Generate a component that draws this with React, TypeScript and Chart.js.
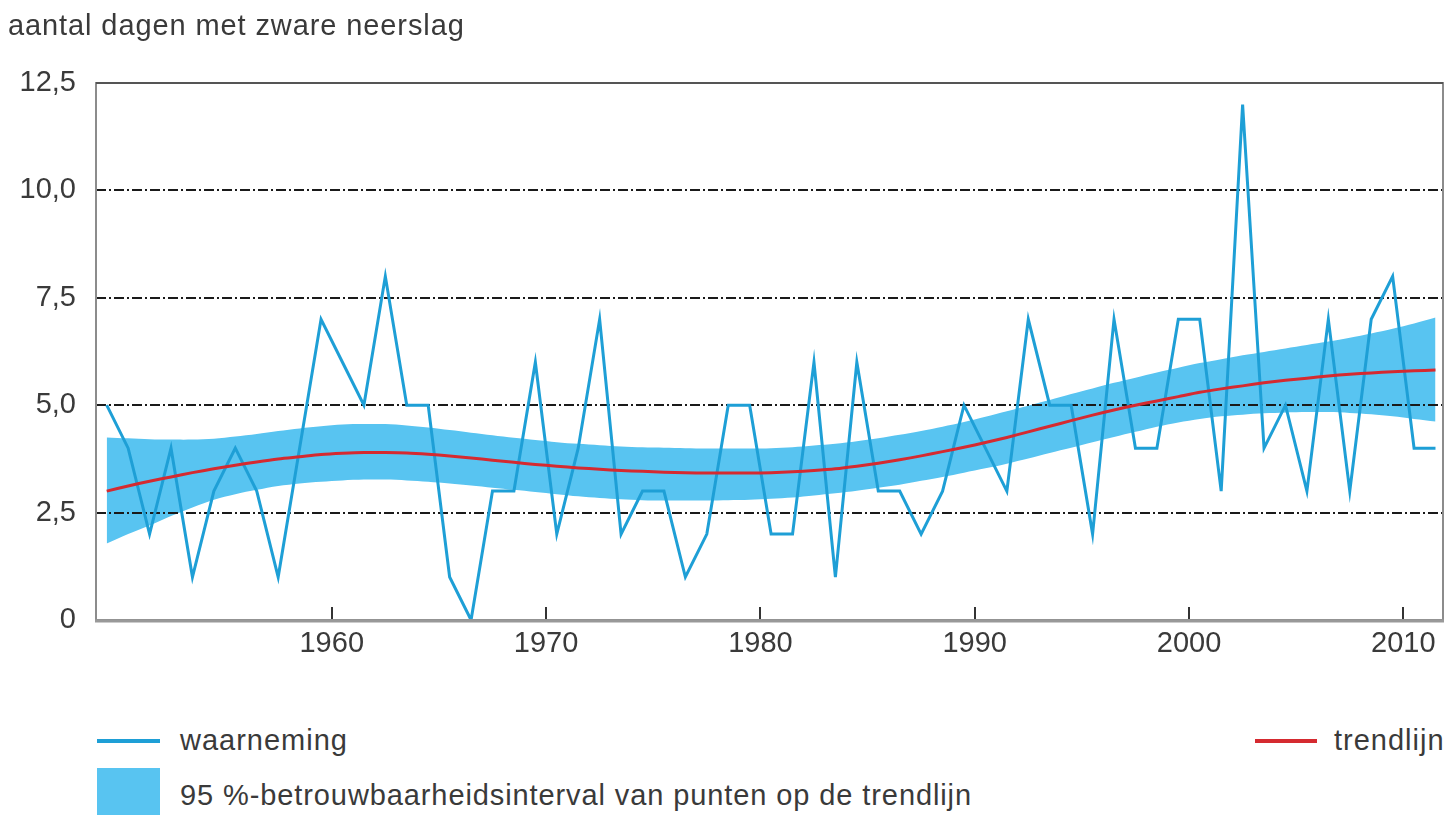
import React, { useEffect, useRef } from "react";
import { Chart, registerables } from "chart.js";

Chart.register(...registerables);

// ---- Data ----
const years = [
  1949, 1950, 1951, 1952, 1953, 1954, 1955, 1956, 1957, 1958,
  1959, 1960, 1961, 1962, 1963, 1964, 1965, 1966, 1967, 1968,
  1969, 1970, 1971, 1972, 1973, 1974, 1975, 1976, 1977, 1978,
  1979, 1980, 1981, 1982, 1983, 1984, 1985, 1986, 1987, 1988,
  1989, 1990, 1991, 1992, 1993, 1994, 1995, 1996, 1997, 1998,
  1999, 2000, 2001, 2002, 2003, 2004, 2005, 2006, 2007, 2008,
  2009, 2010, 2011,
];

const waarneming = [
  5, 4, 2, 4, 1, 3, 4, 3, 1, 4,
  7, 6, 5, 8, 5, 5, 1, 0, 3, 3,
  6, 2, 4, 7, 2, 3, 3, 1, 2, 5,
  5, 2, 2, 6, 1, 6, 3, 3, 2, 3,
  5, 4, 3, 7, 5, 5, 2, 7, 4, 4,
  7, 7, 3, 12, 4, 5, 3, 7, 3, 7,
  8, 4, 4,
];

const trendlijn = [
  3.0, 3.12, 3.23, 3.33, 3.43, 3.52, 3.6, 3.68, 3.75, 3.8,
  3.85, 3.88, 3.9, 3.9, 3.89, 3.86, 3.82, 3.77, 3.72, 3.67,
  3.62, 3.58, 3.54, 3.51, 3.48, 3.46, 3.44, 3.43, 3.42, 3.42,
  3.42, 3.43, 3.45, 3.48, 3.52, 3.58, 3.65, 3.73, 3.82, 3.92,
  4.02, 4.13, 4.25, 4.38, 4.51, 4.64, 4.77, 4.89, 5.0, 5.1,
  5.2, 5.3, 5.38, 5.45, 5.52, 5.58, 5.63, 5.68, 5.72, 5.75,
  5.78, 5.8, 5.82,
];

const intervalBoven = [
  4.25, 4.23, 4.21, 4.2, 4.2, 4.22, 4.27, 4.33, 4.4, 4.46,
  4.51, 4.55, 4.56, 4.56, 4.53, 4.48, 4.42, 4.36, 4.3, 4.24,
  4.19, 4.14, 4.1, 4.07, 4.04, 4.02, 4.01, 4.0, 3.99, 3.99,
  3.99, 4.0, 4.02, 4.06, 4.1, 4.16, 4.23, 4.31, 4.4, 4.5,
  4.61, 4.73, 4.86, 4.99, 5.12, 5.26, 5.39, 5.52, 5.64, 5.76,
  5.87, 5.98, 6.07, 6.16, 6.24, 6.32, 6.4, 6.48, 6.57, 6.67,
  6.78, 6.9, 7.04,
];

const intervalOnder = [
  1.78, 2.0, 2.2, 2.42, 2.62, 2.8, 2.93, 3.03, 3.12, 3.18,
  3.22, 3.25, 3.27, 3.27, 3.25, 3.22, 3.18, 3.13, 3.08, 3.03,
  2.98, 2.93, 2.88, 2.84, 2.81, 2.79, 2.78, 2.78, 2.78, 2.79,
  2.8, 2.82, 2.85, 2.9, 2.95, 3.01, 3.08, 3.15, 3.24, 3.33,
  3.43, 3.53, 3.64, 3.76, 3.89, 4.01, 4.14, 4.26, 4.38, 4.5,
  4.6, 4.68, 4.74, 4.78, 4.81, 4.83, 4.84, 4.84, 4.82, 4.79,
  4.74, 4.68, 4.62,
];

const xTickYears = [1960, 1970, 1980, 1990, 2000, 2010];
const yTickValues = [0, 2.5, 5, 7.5, 10, 12.5];
const gridValues = [2.5, 5, 7.5, 10];

const titleText = "aantal dagen met zware neerslag";
const legendObs = "waarneming";
const legendTrend = "trendlijn";
const legendBand = "95 %-betrouwbaarheidsinterval van punten op de trendlijn";

// ---- Styles ----
const OBS_COLOR = "#1e9fd6";
const BAND_COLOR = "#58c4f1";
const TREND_COLOR = "#d52a30";
const TEXT_COLOR = "#3a3a3a";
const FONT = '"Liberation Sans", Arial, Helvetica, sans-serif';

const toPoints = (vals: number[]) => years.map((yr, i) => ({ x: yr + 0.5, y: vals[i] }));

const framePlugin = {
  id: "frameAndGrid",
  afterDatasetDraw(chart: any, args: any) {
    if (args.index !== 2) return;
    const { ctx, chartArea: a, scales } = chart;
    const y = scales.y;
    ctx.save();
    ctx.strokeStyle = "#1a1a1a";
    ctx.lineWidth = 2;
    ctx.setLineDash([10, 3, 2, 3]);
    gridValues.forEach((v) => {
      const py = Math.round(y.getPixelForValue(v));
      ctx.beginPath();
      ctx.moveTo(a.left, py);
      ctx.lineTo(a.right, py);
      ctx.stroke();
    });
    ctx.restore();
  },
  afterDraw(chart: any) {
    const { ctx, chartArea: a, scales } = chart;
    const x = scales.x;
    ctx.save();
    ctx.strokeStyle = "#333";
    ctx.lineWidth = 2;
    xTickYears.forEach((yr) => {
      const px = Math.round(x.getPixelForValue(yr));
      ctx.beginPath();
      ctx.moveTo(px, a.bottom);
      ctx.lineTo(px, a.bottom - 13);
      ctx.stroke();
    });
    ctx.strokeStyle = "#8c8c8c";
    ctx.lineWidth = 2;
    ctx.strokeRect(a.left, a.top, a.right - a.left, a.bottom - a.top);
    ctx.strokeStyle = "#555";
    ctx.beginPath();
    ctx.moveTo(a.left, a.top);
    ctx.lineTo(a.right, a.top);
    ctx.stroke();
    ctx.strokeStyle = "#999";
    ctx.lineWidth = 3;
    ctx.beginPath();
    ctx.moveTo(a.left - 1, a.bottom + 1);
    ctx.lineTo(a.right + 1, a.bottom + 1);
    ctx.stroke();
    ctx.restore();
  },
};

export default function App() {
  const canvasRef = useRef<HTMLCanvasElement | null>(null);

  useEffect(() => {
    if (!canvasRef.current) return;
    const chart = new Chart(canvasRef.current, {
      type: "line",
      data: {
        datasets: [
          {
            label: legendTrend,
            data: toPoints(trendlijn),
            borderColor: TREND_COLOR,
            borderWidth: 3,
            pointRadius: 0,
            tension: 0.3,
            fill: false,
          },
          {
            label: legendObs,
            data: toPoints(waarneming),
            borderColor: OBS_COLOR,
            borderWidth: 3,
            pointRadius: 0,
            tension: 0,
            borderJoinStyle: "miter",
            fill: false,
          },
          {
            label: "boven",
            data: toPoints(intervalBoven),
            borderColor: BAND_COLOR,
            borderWidth: 0,
            pointRadius: 0,
            tension: 0.3,
            backgroundColor: BAND_COLOR,
            fill: 3,
          },
          {
            label: "onder",
            data: toPoints(intervalOnder),
            borderColor: BAND_COLOR,
            borderWidth: 0,
            pointRadius: 0,
            tension: 0.3,
            fill: false,
          },
        ],
      },
      options: {
        animation: false,
        responsive: false,
        devicePixelRatio: 1,
        layout: { padding: { top: 83, right: 7, left: 0, bottom: 0 } },
        plugins: {
          legend: { display: false },
          tooltip: { enabled: false },
          title: { display: false },
        },
        scales: {
          x: {
            type: "linear",
            min: 1949,
            max: 2011.85,
            afterBuildTicks: (s: any) => {
              s.ticks = xTickYears.map((v) => ({ value: v }));
            },
            afterFit: (s: any) => {
              s.height = 80;
            },
            ticks: {
              callback: (v: any) => String(v),
              font: { family: FONT, size: 29 },
              color: TEXT_COLOR,
              padding: 7,
              maxRotation: 0,
              autoSkip: false,
            },
            grid: { display: false, drawTicks: false },
            border: { display: false },
          },
          y: {
            min: 0,
            max: 12.5,
            afterBuildTicks: (s: any) => {
              s.ticks = yTickValues.map((v) => ({ value: v }));
            },
            afterFit: (s: any) => {
              s.width = 96;
            },
            ticks: {
              callback: (v: any) => (v === 0 ? "0" : Number(v).toFixed(1).replace(".", ",")),
              font: { family: FONT, size: 29 },
              color: TEXT_COLOR,
              padding: 20,
              autoSkip: false,
            },
            grid: { display: false, drawTicks: false },
            border: { display: false },
          },
        },
      },
      plugins: [framePlugin],
    } as any);
    return () => chart.destroy();
  }, []);

  const textStyle: React.CSSProperties = {
    position: "absolute",
    fontSize: 29,
    lineHeight: "32px",
    letterSpacing: "0.9px",
    whiteSpace: "nowrap",
    color: TEXT_COLOR,
    fontFamily: FONT,
  };

  return (
    <div
      style={{
        position: "fixed",
        left: 0,
        top: 0,
        width: 1450,
        height: 822,
        background: "#fff",
        overflow: "hidden",
      }}
    >
      <canvas
        ref={canvasRef}
        width={1450}
        height={700}
        style={{ position: "absolute", left: 0, top: 0, width: 1450, height: 700 }}
      />
      <div style={{ ...textStyle, left: 8, top: 9 }}>{titleText}</div>

      <div style={{ position: "absolute", left: 97, top: 739, width: 63, height: 4, background: OBS_COLOR }} />
      <div style={{ ...textStyle, left: 180, top: 724, letterSpacing: "1px" }}>{legendObs}</div>

      <div style={{ position: "absolute", left: 1255, top: 739, width: 62, height: 4, background: TREND_COLOR }} />
      <div style={{ ...textStyle, left: 1334, top: 724, letterSpacing: "1px" }}>{legendTrend}</div>

      <div style={{ position: "absolute", left: 97, top: 768, width: 63, height: 47, background: BAND_COLOR }} />
      <div style={{ ...textStyle, left: 180, top: 779 }}>{legendBand}</div>
    </div>
  );
}
